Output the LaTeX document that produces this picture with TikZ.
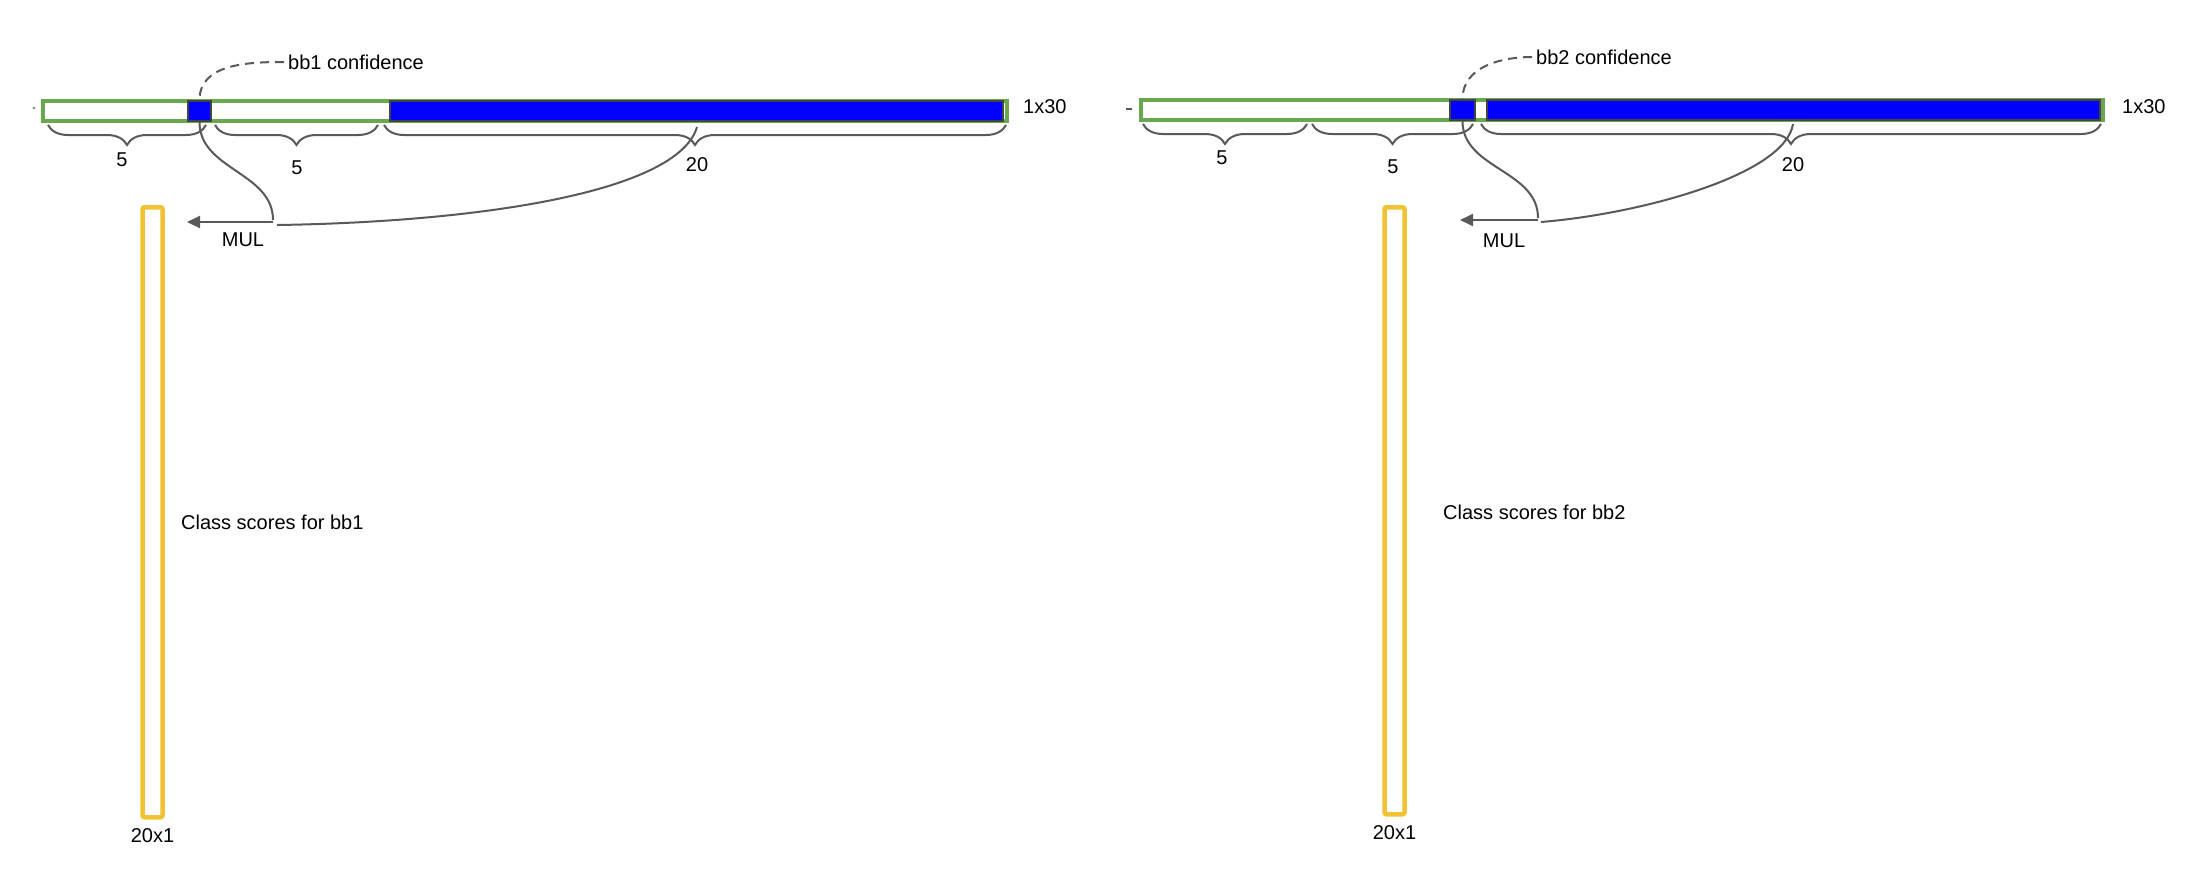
\documentclass[tikz,border=0pt]{standalone}
\usepackage{fontspec}
\setmainfont{Liberation Sans}
\usetikzlibrary{positioning, decorations.pathreplacing, arrows.meta}
\definecolor{bargreen}{HTML}{6AA84F}
\definecolor{cellblue}{HTML}{0000FF}
\definecolor{cellgray}{HTML}{434343}
\definecolor{scoreyellow}{HTML}{F1C232}
\definecolor{linegray}{HTML}{595959}

\begin{document}
\begin{tikzpicture}[x=1pt, y=1pt,
    vecbar/.style={draw=bargreen, line width=4pt, fill=white, inner sep=0pt, minimum height=20pt, anchor=west},
    cell/.style={draw=cellgray, line width=2pt, fill=cellblue, inner sep=0pt, minimum height=20pt, anchor=west},
    scores/.style={draw=scoreyellow, line width=4.5pt, rounded corners=2pt, inner sep=0pt, minimum width=20pt, anchor=north},
    txt/.style={font=\fontsize{20}{24}\selectfont, inner sep=1pt},
    dimbrace/.style={draw=linegray, line width=2pt, decorate, decoration={brace, mirror, amplitude=20pt}},
    link/.style={draw=linegray, line width=2pt},
    conflink/.style={link, dash pattern=on 9pt off 6pt},
    mularrow/.style={link, -{Triangle[length=13pt, width=12pt]}}]
    \useasboundingbox (0,0) rectangle (2198,-884);
    %first box: the 1x30 vector
    \fill[linegray] (34,-108) circle (1.2pt);
    \node[vecbar, minimum width=964pt] (vecA) at (41,-111) {};
    \node[cell, minimum width=23pt] (confA) at (187,-111) {};
    \node[cell, minimum width=613pt] (clsA) at (389,-111) {};
    \node[txt, anchor=west] (sizeA) at (1022,-107) {1x30};
    %the braces
    \draw[dimbrace] (48,-125) -- (206,-125);
    \draw[dimbrace] (215,-125) -- (378,-125);
    \draw[dimbrace] (384,-125) -- (1006,-125);
    \path (122,-160) node[txt] (lenA1) {5} (297,-168) node[txt] (lenA2) {5} (697,-165) node[txt] (lenA3) {20};
    %the 20x1 box
    \node[scores, minimum height=610pt] (scoreA) at (152.5,-205) {};
    \node[txt, below=8pt of scoreA] (dimA) {20x1};
    \node[txt, anchor=west] (nameA) at (180,-522) {Class scores for bb1};
    %the links
    \node[txt, anchor=west] (confTxtA) at (287,-62) {bb1 confidence};
    \coordinate (mulA) at (273,-222);
    \coordinate (tipA) at (187,-222);
    \coordinate (braceA) at (697,-127);
    \draw[conflink] ([xshift=-3pt]confTxtA.west) to[out=180, in=90] (confA.north);
    \draw[link] (confA.south) to[out=-90, in=90] ([yshift=2pt]mulA);
    \draw[link] (braceA) .. controls (678,-192) and (480,-222) .. ([xshift=4pt, yshift=-3pt]mulA);
    \draw[mularrow] (mulA) -- (tipA);
    \node[txt] (mulTxtA) at (243,-240) {MUL};

    %second box: the 1x30 vector
    \draw[linegray, line width=2pt] (1126,-109) -- (1132,-109);
    \node[vecbar, minimum width=962pt] (vecB) at (1139,-110) {};
    \node[cell, minimum width=25pt] (confB) at (1449,-110) {};
    \node[cell, minimum width=613pt] (clsB) at (1486,-110) {};
    \node[txt, anchor=west] (sizeB) at (2121,-107) {1x30};
    %the braces
    \draw[dimbrace] (1143,-124) -- (1307,-124);
    \draw[dimbrace] (1312,-124) -- (1473,-124);
    \draw[dimbrace] (1481,-124) -- (2101,-124);
    \path (1222,-158) node[txt] (lenB1) {5} (1393,-167) node[txt] (lenB2) {5} (1793,-165) node[txt] (lenB3) {20};
    %the 20x1 box
    \node[scores, minimum height=607pt] (scoreB) at (1394.5,-205) {};
    \node[txt, below=8pt of scoreB] (dimB) {20x1};
    \node[txt, anchor=west] (nameB) at (1442,-512) {Class scores for bb2};
    %the links
    \node[txt, anchor=west] (confTxtB) at (1535,-57) {bb2 confidence};
    \coordinate (mulB) at (1538,-220);
    \coordinate (tipB) at (1460,-220);
    \coordinate (braceB) at (1793,-124);
    \draw[conflink] ([xshift=-3pt]confTxtB.west) to[out=180, in=90] (confB.north);
    \draw[link] (confB.south) to[out=-90, in=90] ([yshift=2pt]mulB);
    \draw[link] (braceB) .. controls (1785,-175) and (1640,-214) .. ([xshift=3pt, yshift=-2pt]mulB);
    \draw[mularrow] (mulB) -- (tipB);
    \node[txt] (mulTxtB) at (1504,-241) {MUL};
\end{tikzpicture}
\end{document}
